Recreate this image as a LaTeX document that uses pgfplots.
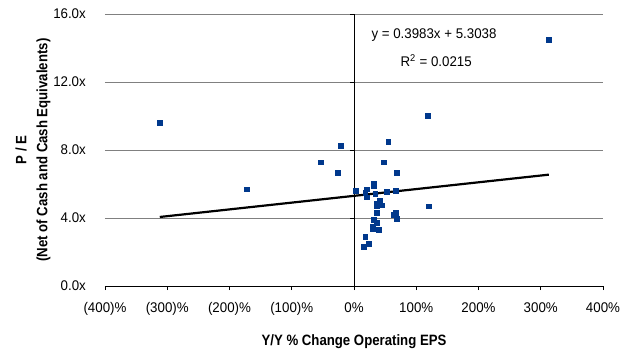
\documentclass[border=0pt]{standalone}
\usepackage{pgfplots}
\pgfplotsset{compat=1.18}
\usepackage{fontspec}
\setmainfont{Liberation Sans}[FakeStretch=0.95]
\newfontfamily\labfont{Liberation Sans}[FakeStretch=0.88]
\definecolor{ptblue}{RGB}{0,56,140}
\definecolor{gridgray}{RGB}{128,128,128}
\begin{document}
\fontsize{14}{17}\selectfont
\begin{tikzpicture}
\useasboundingbox (-105pt,-65pt) rectangle (515pt,286pt);
\begin{axis}[
  at={(0,0)}, anchor=south west,
  scale only axis, width=498pt, height=272pt,
  xmin=-400, xmax=400, ymin=0, ymax=16,
  axis x line=bottom, axis y line=left,
  y axis line style={draw=none},
  ytick style={draw=none},
  xtick={-400,-300,...,400},
  xticklabels={(400)\%,(300)\%,(200)\%,(100)\%,0\%,100\%,200\%,300\%,400\%},
  ytick={0,4,8,12,16},
  yticklabel={\pgfmathprintnumber[fixed,fixed zerofill,precision=1]{\tick}x},
  /pgf/number format/assume math mode=true,
  ymajorgrids, major grid style={gridgray, line width=0.9pt},
  x axis line style={-, black, line width=0.9pt},
  xtick style={black, line width=0.9pt},
  tick align=outside, major tick length=4pt,
  yticklabel style={anchor=east, inner sep=0pt, xshift=-15pt, font=\fontsize{14}{17}\selectfont},
  xticklabel style={anchor=base, inner sep=0pt, yshift=-22pt, font=\fontsize{14}{17}\selectfont},
  xlabel={Y/Y \% Change Operating EPS},
  xlabel style={at={(axis description cs:0.5,0)}, anchor=base, inner sep=0pt, yshift=-59pt, font=\labfont\bfseries\fontsize{15}{18}\selectfont},
  ylabel={P / E\\[3pt](Net of Cash and Cash Equivalents)},
  ylabel style={at={(axis description cs:0,0.5)}, anchor=center, align=center, inner sep=0pt, yshift=72pt, font=\labfont\bfseries\fontsize{15}{18}\selectfont},
  clip=false,
]
\addplot[only marks, mark=square*, mark size=2.4pt, color=ptblue] coordinates {
(-312,9.60) (-172,5.69) (313,14.47) (118,10.0) (120,4.7)
(-22,8.25) (55,8.49) (-53,7.28) (48,7.28) (-26,6.67) (69,6.67)
(32,6.04) (32,5.92) (3,5.61) (20,5.69) (18,5.49) (20,5.22)
(34,5.45) (53,5.53) (67,5.61) (41,5.02) (36,4.82) (36,4.70)
(44,4.75) (37,4.33) (67,4.33) (63,4.18) (69,3.94) (32,3.88)
(37,3.73) (30,3.49) (30,3.35) (40,3.31) (18,2.88) (23,2.51) (15,2.29)
};
\addplot[black, line width=2.2pt] coordinates {(-312,4.06) (313,6.55)};
\draw[black, line width=0.9pt] (axis cs:0,0) -- (axis cs:0,16);
\pgfplotsinvokeforeach{4,8,12,16}{\draw[black, line width=0.9pt] (axis cs:0,#1) -- ([xshift=-4.5pt]axis cs:0,#1);}
\node[inner sep=0pt] at (axis cs:128.5,14.76) {y = 0.3983x + 5.3038};
\node[inner sep=0pt] at (axis cs:132,13.24) {R\textsuperscript{2} = 0.0215};
\end{axis}
\end{tikzpicture}
\end{document}
